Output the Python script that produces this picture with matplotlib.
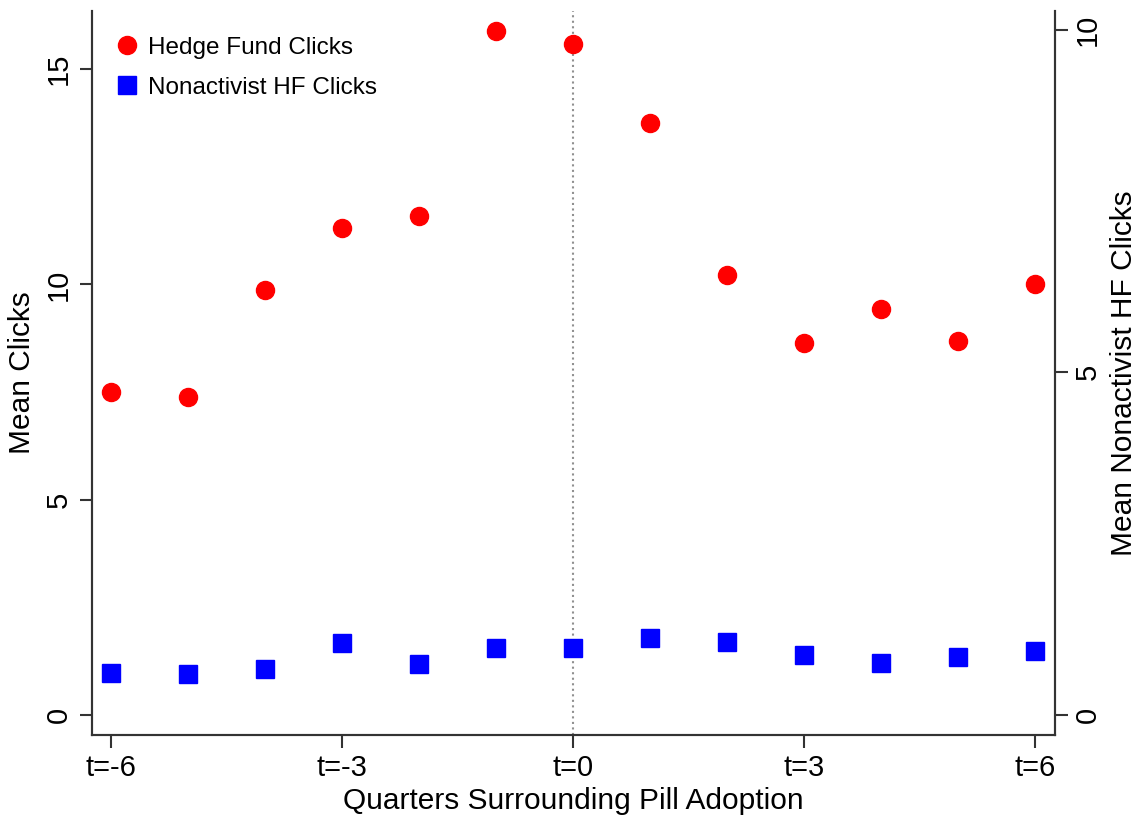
import numpy as np
import matplotlib
matplotlib.use('Agg')
import matplotlib.pyplot as plt

plt.rcParams['font.family'] = ['Liberation Sans', 'DejaVu Sans']

quarters = [-6, -5, -4, -3, -2, -1, 0, 1, 2, 3, 4, 5, 6]
hf_clicks = [7.49, 7.38, 9.88, 11.32, 11.60, 15.89, 15.59, 13.76, 10.23, 8.65, 9.44, 8.68, 10.00]
nonact_clicks = [0.61, 0.60, 0.67, 1.05, 0.74, 0.98, 0.98, 1.12, 1.06, 0.87, 0.76, 0.85, 0.93]
xtick_pos = [-6, -3, 0, 3, 6]
xtick_lab = ['t=-6', 't=-3', 't=0', 't=3', 't=6']

fig = plt.figure(figsize=(11.38, 8.16), dpi=100)
ax = fig.add_axes([0.0808, 0.0993, 0.846, 0.8872])
ax2 = ax.twinx()

ax.axvline(0, color='#909090', linestyle=':', linewidth=1.5, zorder=1)
h1, = ax.plot(quarters, hf_clicks, 'o', color='#ff0000', markersize=13, linestyle='none',
              label='Hedge Fund Clicks', zorder=3)
h2, = ax2.plot(quarters, nonact_clicks, 's', color='#0000ff', markersize=12.5, linestyle='none',
               label='Nonactivist HF Clicks', zorder=3)

ax.set_xlim(-6.25, 6.25)
ax.set_ylim(-0.464, 16.35)
ax2.set_ylim(-0.29, 10.27)

ax.set_xticks(xtick_pos)
ax.set_xticklabels(xtick_lab)
ax.set_yticks([0, 5, 10, 15])
ax2.set_yticks([0, 5, 10])

for a in (ax, ax2):
    a.spines['top'].set_visible(False)
    for s in a.spines.values():
        s.set_linewidth(1.5)
        s.set_color('#333333')
    a.tick_params(length=9, width=1.5, color='#333333', labelsize=21, pad=5)
for lab in ax.get_yticklabels() + ax2.get_yticklabels():
    lab.set_rotation(90)
    lab.set_va('center')

ax.set_xlabel('Quarters Surrounding Pill Adoption', fontsize=21.5, labelpad=3)
ax.set_ylabel('Mean Clicks', fontsize=21.5, labelpad=6)
ax2.set_ylabel('Mean Nonactivist HF Clicks', fontsize=21.5, rotation=90, labelpad=6)

ax.legend(handles=[h1, h2], loc='upper left', frameon=False, fontsize=17.5,
          handletextpad=0.3, borderaxespad=0.5, labelspacing=0.75, handlelength=1.1,
          bbox_to_anchor=(0.0, 0.995))

fig.savefig('out.png', dpi=100)
